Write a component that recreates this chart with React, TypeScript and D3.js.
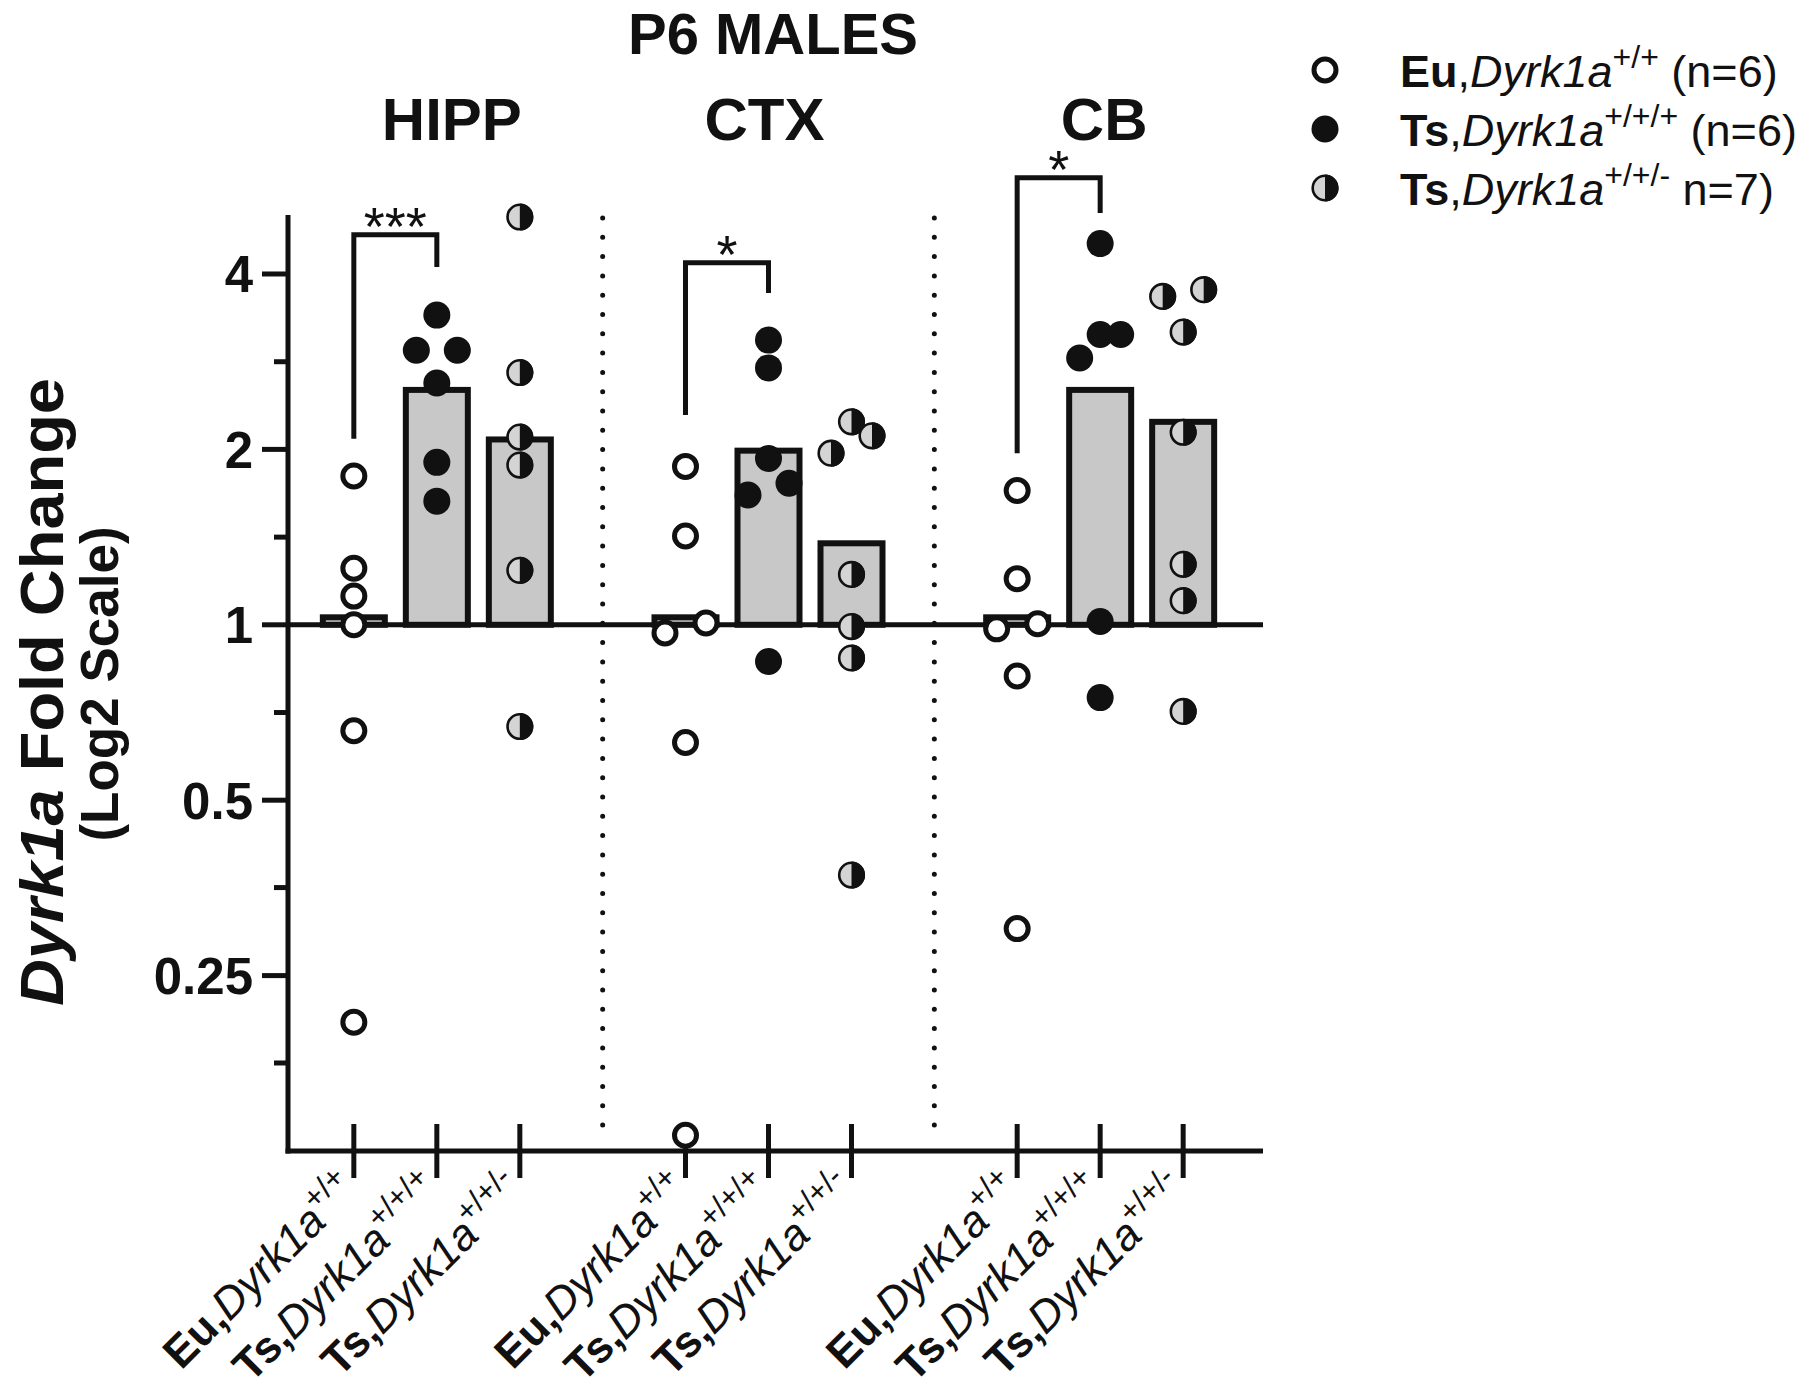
import React from "react";
import * as d3 from "d3";

// ---------- data ----------
const regions = ["HIPP", "CTX", "CB"];
const genotypes = ["Eu", "Ts3", "Ts2"];

const hippEu = [1.8, 1.25, 1.12, 1.0, 0.658, 0.208];
const hippTs3 = [3.4, 2.96, 2.96, 2.6, 1.9, 1.63];
const hippTs2 = [5.01, 2.71, 2.1, 1.88, 1.24, 0.669];
const ctxEu = [1.87, 1.42, 1.007, 0.968, 0.628, 0.133];
const ctxTs3 = [3.08, 2.76, 1.93, 1.75, 1.67, 0.865];
const ctxTs2 = [2.23, 2.11, 1.97, 1.22, 0.993, 0.877, 0.372];
const cbEu = [1.7, 1.2, 1.004, 0.984, 0.817, 0.301];
const cbTs3 = [4.51, 3.15, 3.15, 2.87, 1.013, 0.75];
const cbTs2 = [3.76, 3.66, 3.18, 2.14, 1.27, 1.1, 0.71];

const hippMeans = [1.03, 2.53, 2.08];
const ctxMeans = [1.03, 1.99, 1.38];
const cbMeans = [1.03, 2.53, 2.23];

const sigLabels = ["***", "*", "*"];
const sigTop = [4.67, 4.18, 5.85];
const sigLeftEnd = [2.085, 2.29, 1.97];
const sigRightEnd = [4.11, 3.71, 5.09];

const majorTicks = [0.25, 0.5, 1, 2, 4];
const majorTickLabels = ["0.25", "0.5", "1", "2", "4"];
const minorTicks = [0.177, 0.354, 0.707, 1.414, 2.828];

const genoPrefix = ["Eu", "Ts", "Ts"];
const genoSup = ["+/+", "+/+/+", "+/+/-"];
const legendN = [" (n=6)", " (n=6)", " n=7)"];

const title = "P6 MALES";
const yTitle1a = "Dyrk1a";
const yTitle1b = " Fold Change";
const yTitle2 = "(Log2 Scale)";

const pointsByRegion = [
  [hippEu, hippTs3, hippTs2],
  [ctxEu, ctxTs3, ctxTs2],
  [cbEu, cbTs3, cbTs2],
];
const meansByRegion = [hippMeans, ctxMeans, cbMeans];

// ---------- layout ----------
const W = 1800;
const H = 1392;
const FONT = "'Liberation Sans', Arial, Helvetica, sans-serif";
const INK = "#111";
const GRAY = "#c8c8c8";

const y = d3.scaleLog().base(2).domain([0.125, 5.05]).range([1151, 215]);
const xGroup = d3.scaleBand<string>().domain(regions).range([271, 1266]).paddingInner(0);
const xSub = d3.scalePoint<string>().domain(genotypes).range([-83, 83]);
const xAxisLeft = 288;
const xAxisRight = 1263;
const R = 13.5;

function spread(values: number[]) {
  const items = values.map((v) => ({ v, py: y(v), dx: 0 }));
  items.sort((a, b) => a.py - b.py);
  const clusters: typeof items[] = [];
  items.forEach((it, i) => {
    if (i > 0 && it.py - items[i - 1].py < 26) clusters[clusters.length - 1].push(it);
    else clusters.push([it]);
  });
  const step = 20.5;
  clusters.forEach((c) => {
    if (c.length === 2) {
      c[0].dx = step;
      c[1].dx = -step;
    } else if (c.length === 3) {
      c[0].dx = 0;
      c[1].dx = step;
      c[2].dx = -step;
    } else if (c.length > 3) {
      c.forEach((it, k) => (it.dx = (k - (c.length - 1) / 2) * step));
    }
  });
  return items;
}

function Marker({ kind, cx, cy }: { kind: number; cx: number; cy: number }) {
  if (kind === 0) {
    return <circle cx={cx} cy={cy} r={R - 2.5} fill="#fff" stroke={INK} strokeWidth={5} />;
  }
  if (kind === 1) {
    return <circle cx={cx} cy={cy} r={R} fill={INK} />;
  }
  return (
    <g>
      <circle cx={cx} cy={cy} r={R - 1.2} fill="#d4d4d4" stroke={INK} strokeWidth={2.6} />
      <path d={`M${cx},${cy - R} A${R},${R} 0 0 1 ${cx},${cy + R} Z`} fill={INK} />
    </g>
  );
}

function GenoLabel({ g, size, supSize, boldComma }: { g: number; size: number; supSize: number; boldComma: boolean }) {
  return (
    <>
      <tspan fontWeight="bold">{genoPrefix[g]}</tspan>
      <tspan fontWeight={boldComma ? "bold" : "normal"}>,</tspan>
      <tspan fontStyle="italic">Dyrk1a</tspan>
      <tspan fontSize={supSize} dy={-size * 0.42}>
        {genoSup[g]}
      </tspan>
    </>
  );
}

export default function App() {
  return (
    <svg
      width={W}
      height={H}
      viewBox={`0 0 ${W} ${H}`}
      style={{ position: "absolute", left: 0, top: 0, background: "#fff" }}
      fontFamily={FONT}
    >
      <rect x={0} y={0} width={W} height={H} fill="#fff" />

      {/* titles */}
      <text x={773} y={54} fontSize={58} fontWeight="bold" textAnchor="middle" fill={INK}>
        {title}
      </text>
      {regions.map((r, i) => (
        <text
          key={r}
          x={(xGroup(r) as number) + xGroup.bandwidth() / 2 + (i === 0 ? 15 : i === 1 ? -4 : 4)}
          y={140}
          fontSize={60}
          fontWeight="bold"
          textAnchor="middle"
          fill={INK}
        >
          {r}
        </text>
      ))}

      {/* dotted separators */}
      {regions.slice(1).map((r) => (
        <line
          key={r}
          x1={xGroup(r) as number}
          x2={xGroup(r) as number}
          y1={218}
          y2={1140}
          stroke={INK}
          strokeWidth={5}
          strokeLinecap="round"
          strokeDasharray="0 19.3"
        />
      ))}

      {/* bars */}
      {regions.map((r, ri) =>
        genotypes.map((g, gi) => {
          const cx = (xGroup(r) as number) + xGroup.bandwidth() / 2 + (xSub(g) as number);
          const m = meansByRegion[ri][gi];
          const top = Math.min(y(m), y(1));
          const h = Math.abs(y(m) - y(1));
          return (
            <rect key={r + g} x={cx - 31} y={top} width={62} height={h} fill={GRAY} stroke={INK} strokeWidth={6} />
          );
        })
      )}

      {/* reference line at 1 */}
      <line x1={xAxisLeft} x2={xAxisRight} y1={y(1)} y2={y(1)} stroke={INK} strokeWidth={5} />

      {/* axes */}
      <line x1={xAxisLeft} x2={xAxisLeft} y1={215} y2={1153.5} stroke={INK} strokeWidth={5} />
      <line x1={xAxisLeft - 2.5} x2={xAxisRight} y1={1151} y2={1151} stroke={INK} strokeWidth={5} />
      {majorTicks.map((t, i) => (
        <g key={t}>
          <line x1={xAxisLeft - 26} x2={xAxisLeft} y1={y(t)} y2={y(t)} stroke={INK} strokeWidth={5} />
          <text
            x={xAxisLeft - 35}
            y={y(t)}
            dy="0.36em"
            fontSize={51}
            fontWeight="bold"
            textAnchor="end"
            fill={INK}
          >
            {majorTickLabels[i]}
          </text>
        </g>
      ))}
      {minorTicks.map((t) => (
        <line key={t} x1={xAxisLeft - 14} x2={xAxisLeft} y1={y(t)} y2={y(t)} stroke={INK} strokeWidth={5} />
      ))}

      {/* x ticks and labels */}
      {regions.map((r) =>
        genotypes.map((g, gi) => {
          const cx = (xGroup(r) as number) + xGroup.bandwidth() / 2 + (xSub(g) as number);
          return (
            <g key={r + g}>
              <line x1={cx} x2={cx} y1={1124} y2={1178} stroke={INK} strokeWidth={5} />
              <text
                transform={`translate(${cx + 6},${1192}) rotate(-45)`}
                fontSize={44}
                textAnchor="end"
                fill={INK}
              >
                <GenoLabel g={gi} size={44} supSize={31} boldComma={true} />
              </text>
            </g>
          );
        })
      )}

      {/* significance brackets */}
      {regions.map((r, i) => {
        const c = (xGroup(r) as number) + xGroup.bandwidth() / 2;
        const xl = c + (xSub("Eu") as number);
        const xr = c + (xSub("Ts3") as number);
        const yt = y(sigTop[i]);
        return (
          <g key={r}>
            <path
              d={`M${xl},${y(sigLeftEnd[i])} V${yt} H${xr} V${y(sigRightEnd[i])}`}
              fill="none"
              stroke={INK}
              strokeWidth={5}
            />
            <text x={(xl + xr) / 2} y={yt + 10} fontSize={54} textAnchor="middle" fill={INK}>
              {sigLabels[i]}
            </text>
          </g>
        );
      })}

      {/* points */}
      {regions.map((r, ri) =>
        genotypes.map((g, gi) => {
          const cx = (xGroup(r) as number) + xGroup.bandwidth() / 2 + (xSub(g) as number);
          return spread(pointsByRegion[ri][gi]).map((p, k) => (
            <Marker key={r + g + k} kind={gi} cx={cx + p.dx} cy={p.py} />
          ));
        })
      )}

      {/* y title */}
      <text
        transform={`translate(63,692) rotate(-90)`}
        fontSize={62}
        fontWeight="bold"
        textAnchor="middle"
        textLength={628}
        lengthAdjust="spacingAndGlyphs"
        fill={INK}
      >
        <tspan fontStyle="italic">{yTitle1a}</tspan>
        <tspan>{yTitle1b}</tspan>
      </text>
      <text
        transform={`translate(118,684) rotate(-90)`}
        fontSize={53}
        fontWeight="bold"
        textAnchor="middle"
        fill={INK}
      >
        {yTitle2}
      </text>

      {/* legend */}
      {genotypes.map((g, gi) => {
        const ly = 70 + gi * 59;
        return (
          <g key={g}>
            <Marker kind={gi} cx={1325} cy={ly} />
            <text x={1400} y={ly + 17} fontSize={45} fill={INK}>
              <GenoLabel g={gi} size={45} supSize={32} boldComma={false} />
              <tspan dy={45 * 0.42}>{legendN[gi]}</tspan>
            </text>
          </g>
        );
      })}
    </svg>
  );
}
